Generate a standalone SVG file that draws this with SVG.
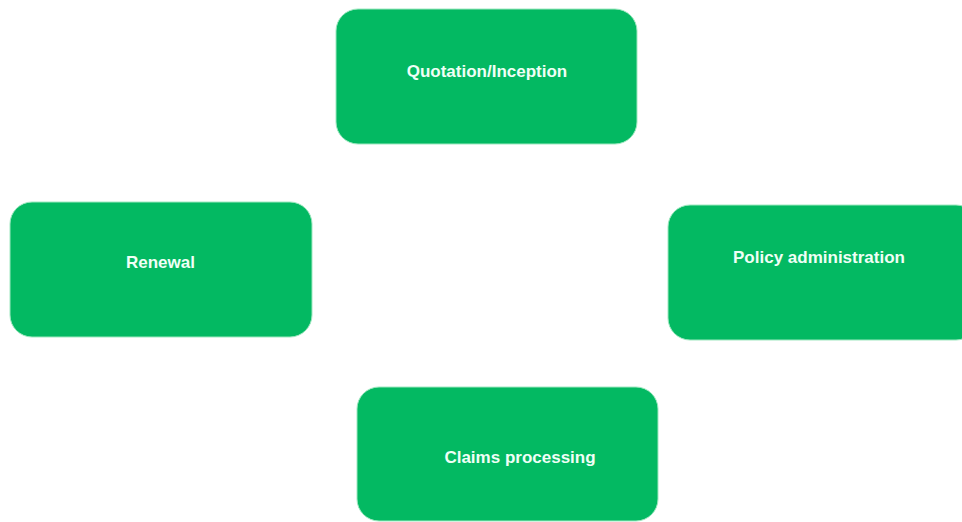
<svg xmlns="http://www.w3.org/2000/svg" width="962" height="522" viewBox="0 0 962 522">
<style>
.box{fill:#03b962;stroke:#9fe8c0;stroke-width:1}
.lbl{font-family:"Liberation Sans",Arial,sans-serif;font-weight:bold;font-size:17px;fill:#effff6;text-anchor:middle}
</style>
<rect width="962" height="522" fill="#ffffff"/>
<g id="connectors"></g>
<g id="quotation">
<rect class="box" x="336" y="9" width="301" height="135" rx="22"/>
<text class="lbl" x="487" y="77">Quotation/Inception</text>
</g>
<g id="policy">
<rect class="box" x="668" y="205" width="310" height="135" rx="22"/>
<text class="lbl" x="819" y="263">Policy administration</text>
</g>
<g id="renewal">
<rect class="box" x="10" y="202" width="302" height="135" rx="22"/>
<text class="lbl" x="160.5" y="268">Renewal</text>
</g>
<g id="claims">
<rect class="box" x="357" y="387" width="301" height="134" rx="22"/>
<text class="lbl" x="520" y="463">Claims processing</text>
</g>
</svg>
